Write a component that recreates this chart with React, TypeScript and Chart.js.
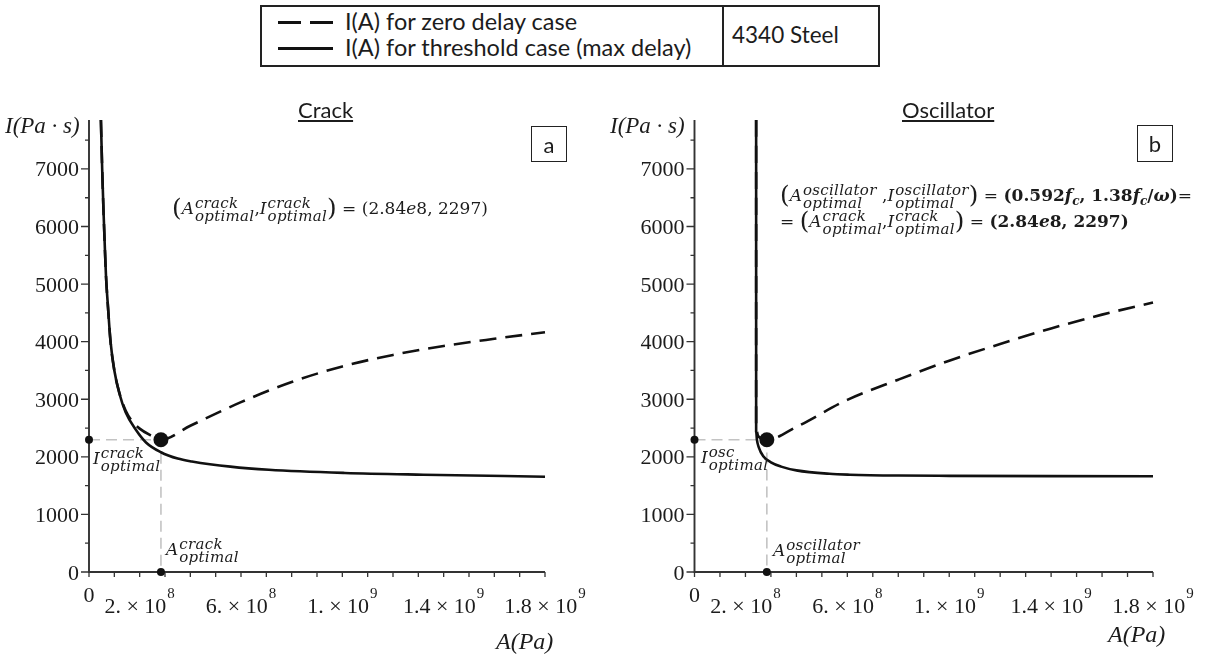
import React, { useEffect, useRef } from "react";
import { Chart, registerables } from "chart.js";

Chart.register(...registerables);

// Axis ranges
const A_MAX = 1.8e9;
const I_MAX = 7850;

// Tick marks and labels
const Y_TICKS = [0, 1000, 2000, 3000, 4000, 5000, 6000, 7000];
const Y_MINOR_TICKS = [500, 1500, 2500, 3500, 4500, 5500, 6500, 7500];
const X_TICKS = [0, 1e8, 2e8, 3e8, 4e8, 5e8, 6e8, 7e8, 8e8, 9e8, 10e8, 11e8, 12e8, 13e8, 14e8, 15e8, 16e8, 17e8, 18e8];
const X_LABEL_VALUES = [0, 2e8, 6e8, 10e8, 14e8, 18e8];
const X_LABEL_MANTISSAS = ["0", "2.", "6.", "1.", "1.4", "1.8"];
const X_LABEL_EXPONENTS = ["", "8", "8", "9", "9", "9"];

// Optimal point shared by both panels
const OPT_A = 2.84e8;
const OPT_I = 2297;

// Crack panel: I(A) for threshold case (max delay)
const CRACK_THRESHOLD_A = [0.47e8, 0.52e8, 0.57e8, 0.62e8, 0.67e8, 0.75e8, 0.85e8, 1.0e8, 1.2e8, 1.45e8, 1.85e8, 2.25e8, 2.84e8, 3.5e8, 4.06e8, 5.58e8, 7.1e8, 10.1e8, 13.2e8, 18e8];
const CRACK_THRESHOLD_I = [7850, 7000, 6300, 5700, 5150, 4600, 4000, 3500, 3100, 2770, 2470, 2250, 2080, 1970, 1920, 1830, 1775, 1720, 1690, 1655];
// Crack panel: I(A) for zero delay case
const CRACK_ZERO_A = [0.47e8, 0.52e8, 0.57e8, 0.62e8, 0.67e8, 0.75e8, 0.85e8, 1.0e8, 1.2e8, 1.45e8, 1.7e8, 2.0e8, 2.4e8, 2.84e8, 4e8, 6e8, 8e8, 10e8, 12e8, 14e8, 16e8, 18e8];
const CRACK_ZERO_I = [7850, 7000, 6300, 5700, 5150, 4600, 4000, 3500, 3110, 2800, 2620, 2490, 2380, 2297, 2540, 2950, 3300, 3570, 3770, 3925, 4050, 4165];

// Oscillator panel: I(A) for threshold case (max delay)
const OSC_THRESHOLD_A = [2.42e8, 2.42e8, 2.42e8, 2.45e8, 2.52e8, 2.7e8, 3.0e8, 3.4e8, 4.0e8, 5.3e8, 6.1e8, 8e8, 10e8, 14e8, 18e8];
const OSC_THRESHOLD_I = [7850, 5000, 2450, 2300, 2170, 2010, 1905, 1830, 1765, 1705, 1690, 1675, 1670, 1665, 1662];
// Oscillator panel: I(A) for zero delay case
const OSC_ZERO_A = [2.42e8, 2.42e8, 2.5e8, 2.84e8, 4e8, 6e8, 8e8, 10e8, 12e8, 14e8, 16e8, 18e8];
const OSC_ZERO_I = [7850, 2480, 2360, 2297, 2520, 2990, 3340, 3670, 3960, 4230, 4470, 4680];

const SERIF = '"Liberation Serif", "Times New Roman", serif';
const MATH = '"DejaVu Serif", serif';
const SANS = 'Lato, "Open Sans", sans-serif';
const INK = "#111";
const AXIS = "#333";
const TEXT = "#1c1c1c";
const GUIDE = "#c3c3c3";

const toPoints = (xs: number[], ys: number[]) => xs.map((x, i) => ({ x, y: ys[i] }));

function axesPlugin(xTitle: { x: number; y: number }) {
  return {
    id: "mapleAxes",
    beforeDatasetsDraw(chart: any) {
      const { ctx } = chart;
      const xs = chart.scales.x;
      const ys = chart.scales.y;
      const x0 = xs.getPixelForValue(0);
      const y0 = ys.getPixelForValue(0);
      const x1 = xs.getPixelForValue(A_MAX);
      const y1 = ys.getPixelForValue(I_MAX);
      ctx.save();
      ctx.strokeStyle = AXIS;
      ctx.lineWidth = 1.9;
      ctx.beginPath();
      ctx.moveTo(x0, y1);
      ctx.lineTo(x0, y0);
      ctx.lineTo(x1, y0);
      ctx.stroke();

      ctx.lineWidth = 1.3;
      ctx.beginPath();
      for (const v of Y_TICKS) {
        const p = ys.getPixelForValue(v);
        ctx.moveTo(x0 - 8, p);
        ctx.lineTo(x0, p);
      }
      for (const v of Y_MINOR_TICKS) {
        const p = ys.getPixelForValue(v);
        ctx.moveTo(x0 - 4, p);
        ctx.lineTo(x0, p);
      }
      for (const v of X_TICKS) {
        const p = xs.getPixelForValue(v);
        ctx.moveTo(p, y0);
        ctx.lineTo(p, y0 + 5);
      }
      ctx.stroke();

      ctx.fillStyle = TEXT;
      ctx.font = `22px ${SERIF}`;
      ctx.textAlign = "right";
      ctx.textBaseline = "alphabetic";
      for (const v of Y_TICKS) ctx.fillText(String(v), x0 - 10, ys.getPixelForValue(v) + 7.5);

      ctx.textAlign = "left";
      X_LABEL_VALUES.forEach((v, i) => {
        const cx = xs.getPixelForValue(v);
        const mant = X_LABEL_MANTISSAS[i];
        const exp = X_LABEL_EXPONENTS[i];
        ctx.font = `22px ${SERIF}`;
        if (!exp) {
          const w = ctx.measureText(mant).width;
          ctx.fillText(mant, cx - w / 2, y0 + 30);
          return;
        }
        const main = `${mant} \u00d7 10`;
        const w1 = ctx.measureText(main).width;
        ctx.font = `15px ${SERIF}`;
        const w2 = ctx.measureText(exp).width;
        const start = cx - (w1 + 1 + w2) / 2;
        ctx.font = `22px ${SERIF}`;
        ctx.fillText(main, start, y0 + 41);
        ctx.font = `15px ${SERIF}`;
        ctx.fillText(exp, start + w1 + 1, y0 + 26);
      });

      ctx.font = `italic 23px ${SERIF}`;
      ctx.fillText("I(Pa \u00b7 s)", 5, 43);
      ctx.font = `italic 24px ${SERIF}`;
      ctx.fillText("A(Pa)", xTitle.x, xTitle.y);
      ctx.restore();
    },
  };
}

type PlotProps = {
  left: number;
  width: number;
  thresholdA: number[];
  thresholdI: number[];
  zeroA: number[];
  zeroI: number[];
  pad: { left: number; right: number; top: number; bottom: number };
  xTitle: { x: number; y: number };
};

function Plot({ left, width, thresholdA, thresholdI, zeroA, zeroI, pad, xTitle }: PlotProps) {
  const ref = useRef<HTMLCanvasElement>(null);
  useEffect(() => {
    if (!ref.current) return;
    const chart = new Chart(ref.current, {
      type: "line",
      data: {
        datasets: [
          {
            label: "optimum",
            data: [{ x: OPT_A, y: OPT_I }],
            showLine: false,
            pointRadius: 7.5,
            pointBackgroundColor: INK,
            pointBorderWidth: 0,
            clip: false,
            order: 1,
          },
          {
            label: "axis markers",
            data: [
              { x: 0, y: OPT_I },
              { x: OPT_A, y: 0 },
            ],
            showLine: false,
            pointRadius: 4,
            pointBackgroundColor: INK,
            pointBorderWidth: 0,
            clip: false,
            order: 2,
          },
          {
            label: "I(A) for zero delay case",
            data: toPoints(zeroA, zeroI),
            borderColor: INK,
            borderWidth: 2.6,
            borderDash: [17, 9],
            pointRadius: 0,
            cubicInterpolationMode: "monotone",
            fill: false,
            clip: 4,
            order: 3,
          },
          {
            label: "I(A) for threshold case (max delay)",
            data: toPoints(thresholdA, thresholdI),
            borderColor: INK,
            borderWidth: 2.6,
            pointRadius: 0,
            cubicInterpolationMode: "monotone",
            fill: false,
            clip: 4,
            order: 4,
          },
          {
            label: "guides",
            data: [
              { x: 0, y: OPT_I },
              { x: OPT_A, y: OPT_I },
              { x: OPT_A, y: 0 },
            ],
            borderColor: GUIDE,
            borderWidth: 1.6,
            borderDash: [11, 6],
            pointRadius: 0,
            tension: 0,
            fill: false,
            order: 5,
          },
        ],
      },
      options: {
        animation: false,
        responsive: false,
        maintainAspectRatio: false,
        events: [],
        layout: { padding: pad },
        plugins: {
          legend: { display: false },
          tooltip: { enabled: false },
          title: { display: false },
        },
        scales: {
          x: { type: "linear", min: 0, max: A_MAX, display: false },
          y: { type: "linear", min: 0, max: I_MAX, display: false },
        },
      },
      plugins: [axesPlugin(xTitle)],
    } as any);
    return () => chart.destroy();
  }, []);
  return (
    <canvas
      ref={ref}
      width={width}
      height={570}
      style={{ position: "absolute", left, top: 90, width, height: 570 }}
    />
  );
}

function Scripts({ sup, sub }: { sup: string; sub: string }) {
  return (
    <span
      style={{
        display: "inline-flex",
        flexDirection: "column",
        verticalAlign: "middle",
        fontSize: 15,
        lineHeight: "13px",
        fontStyle: "italic",
        fontWeight: "normal",
        letterSpacing: 0.3,
        marginLeft: 1,
      }}
    >
      <span>{sup}</span>
      <span>{sub}</span>
    </span>
  );
}

function Sym({ b, sup, sub }: { b: string; sup: string; sub: string }) {
  return (
    <span style={{ whiteSpace: "nowrap" }}>
      <i>{b}</i>
      <Scripts sup={sup} sub={sub} />
    </span>
  );
}

function Paren({ c }: { c: string }) {
  return <span style={{ fontSize: "1.45em", verticalAlign: "-0.1em", lineHeight: 0 }}>{c}</span>;
}

function Fc() {
  return (
    <span>
      <i>f</i>
      <i style={{ fontSize: 12, verticalAlign: "-4px" }}>c</i>
    </span>
  );
}

const mathLine = (left: number, top: number): React.CSSProperties => ({
  position: "absolute",
  left,
  top,
  fontFamily: MATH,
  fontSize: 17,
  lineHeight: "30px",
  whiteSpace: "nowrap",
  color: TEXT,
});

const box = (left: number, top: number, width: number, height: number): React.CSSProperties => ({
  position: "absolute",
  left,
  top,
  width,
  height,
  boxSizing: "border-box",
});

const legendText = (left: number, top: number, size: number): React.CSSProperties => ({
  position: "absolute",
  left,
  top,
  fontFamily: SANS,
  fontSize: size,
  lineHeight: "26px",
  whiteSpace: "nowrap",
});

export default function App() {
  return (
    <div
      style={{
        position: "absolute",
        left: 0,
        top: 0,
        width: 1221,
        height: 660,
        background: "#fff",
        overflow: "hidden",
        color: TEXT,
      }}
    >
      {/* Legend */}
      <div style={{ ...box(260, 5, 620, 62), border: "2px solid #222" }} />
      <div style={{ ...box(722, 5, 2, 62), background: "#222" }} />
      <div style={{ ...box(278, 21, 23, 3), background: INK }} />
      <div style={{ ...box(310, 21, 23, 3), background: INK }} />
      <div style={{ ...box(278, 47, 55, 3), background: INK }} />
      <div style={legendText(345, 8, 23.5)}>I(A) for zero delay case</div>
      <div style={legendText(345, 34, 23.5)}>I(A) for threshold case (max delay)</div>
      <div style={legendText(732, 22, 22.5)}>4340 Steel</div>

      <Plot
        left={0}
        width={605}
        thresholdA={CRACK_THRESHOLD_A}
        thresholdI={CRACK_THRESHOLD_I}
        zeroA={CRACK_ZERO_A}
        zeroI={CRACK_ZERO_I}
        pad={{ left: 89, right: 60, top: 30, bottom: 88 }}
        xTitle={{ x: 496, y: 559 }}
      />
      <Plot
        left={605}
        width={616}
        thresholdA={OSC_THRESHOLD_A}
        thresholdI={OSC_THRESHOLD_I}
        zeroA={OSC_ZERO_A}
        zeroI={OSC_ZERO_I}
        pad={{ left: 89.5, right: 68, top: 30, bottom: 88 }}
        xTitle={{ x: 503, y: 552 }}
      />

      {/* Panel titles */}
      <div style={{ position: "absolute", left: 298, top: 99, fontFamily: SANS, fontSize: 22, lineHeight: "22px", textDecoration: "underline" }}>
        Crack
      </div>
      <div style={{ position: "absolute", left: 902, top: 99, fontFamily: SANS, fontSize: 22, lineHeight: "22px", textDecoration: "underline" }}>
        Oscillator
      </div>
      <div style={{ ...box(531, 126, 36, 36), border: "1.5px solid #222", fontFamily: SANS, fontSize: 22, display: "flex", alignItems: "center", justifyContent: "center" }}>
        a
      </div>
      <div style={{ ...box(1137, 125, 36, 37), border: "1.5px solid #222", fontFamily: SANS, fontSize: 22, display: "flex", alignItems: "center", justifyContent: "center" }}>
        b
      </div>

      {/* Crack annotations */}
      <div style={mathLine(172, 193)}>
        <Paren c="(" />
        <Sym b="A" sup="crack" sub="optimal" />,<Sym b="I" sup="crack" sub="optimal" />
        <Paren c=")" /> = (2.84<i>e</i>8, 2297)
      </div>
      <div style={mathLine(93, 443)}>
        <Sym b="I" sup="crack" sub="optimal" />
      </div>
      <div style={mathLine(166, 534)}>
        <Sym b="A" sup="crack" sub="optimal" />
      </div>

      {/* Oscillator annotations */}
      <div style={mathLine(780, 180)}>
        <Paren c="(" />
        <Sym b="A" sup="oscillator" sub="optimal" /> ,<Sym b="I" sup="oscillator" sub="optimal" />
        <Paren c=")" /> ={" "}
        <b>
          (0.592<Fc />, 1.38<Fc />/<i>ω</i>)
        </b>
        =
      </div>
      <div style={mathLine(780, 206)}>
        = <Paren c="(" />
        <Sym b="A" sup="crack" sub="optimal" />,<Sym b="I" sup="crack" sub="optimal" />
        <Paren c=")" /> ={" "}
        <b>
          (2.84<i>e</i>8, 2297)
        </b>
      </div>
      <div style={mathLine(701, 442)}>
        <Sym b="I" sup="osc" sub="optimal" />
      </div>
      <div style={mathLine(773, 535)}>
        <Sym b="A" sup="oscillator" sub="optimal" />
      </div>
    </div>
  );
}
